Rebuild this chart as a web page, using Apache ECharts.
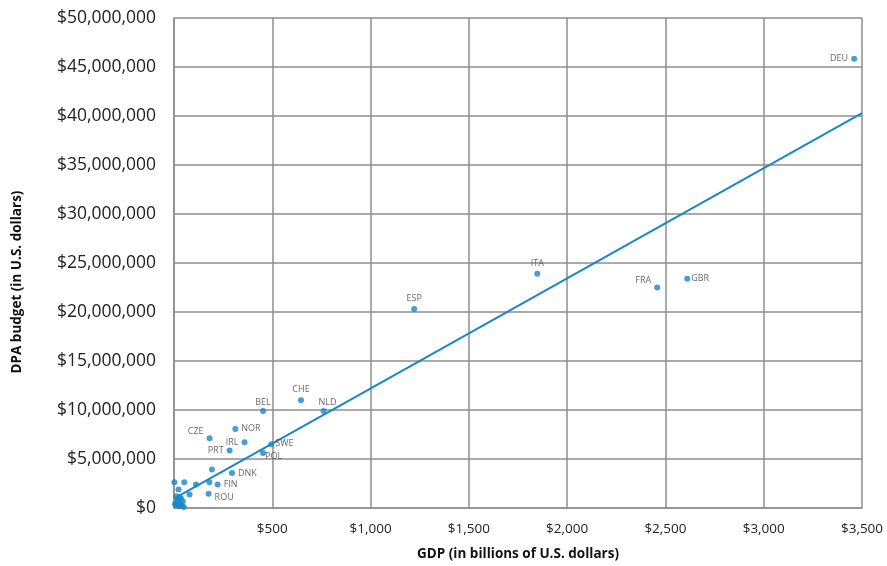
<!DOCTYPE html>
<html>
<head>
<meta charset="utf-8">
<script src="https://cdn.jsdelivr.net/npm/echarts@6/dist/echarts.min.js"></script>
<style>
html,body{margin:0;padding:0;background:#fff;overflow:hidden;}
#c{width:887px;height:566px;}
</style>
</head>
<body>
<div id="c"></div>
<script>
// Data
const countries = ['DEU','ITA','FRA','GBR','ESP','CHE','NLD','BEL','NOR','CZE','IRL','PRT','SWE','POL','DNK','FIN','ROU',
  '','','','','','','','','','','','','','','','','','',''];
const gdp =    [3460,1848,2458,2611,1222,646,761,453,312,181,359,283,495,453,295,222,176,
  193,180,112,52,2,79,23,10,15,20,25,30,35,40,45,12,50,5,28];
const budget = [45.85,23.9,22.5,23.4,20.3,11.0,9.89,9.89,8.07,7.12,6.71,5.87,6.51,5.6,3.57,2.4,1.45,
  3.92,2.63,2.4,2.63,2.63,1.39,1.9,0.3,0.6,0.9,0.2,0.5,1.0,0.3,0.7,1.2,0.1,0.4,1.1].map(v => v*1e6);
const trendGdp = [0, 3500];
const trendBudget = [0.95e6, 40.3e6];
const xTicks = [0,500,1000,1500,2000,2500,3000,3500];

const labelSide = {DEU:'left',ITA:'top',FRA:'left',GBR:'right',ESP:'top',CHE:'top',NLD:'top',BEL:'top',
  NOR:'right',CZE:'left',IRL:'left',PRT:'left',SWE:'right',POL:'right',DNK:'right',FIN:'right',ROU:'right'};
const labelOffset = {FRA:[0,-7],CZE:[0,-7],BEL:[0,2],NLD:[4,2],POL:[-4,3],SWE:[-2,-1],FIN:[0,0],ROU:[0,4],GBR:[-2,0]};

const blue = '#1a86c8';
const grid = '#8e8e8e';
const fmt = n => n.toString().replace(/\B(?=(\d{3})+(?!\d))/g, ',');

const pts = gdp.map((g,i) => {
  const c = countries[i];
  const o = {value:[g, budget[i]]};
  if (c) {
    o.label = {show:true, formatter:c, position:labelSide[c], distance:3,
      offset: labelOffset[c] || [0,0]};
  }
  return o;
});

const chart = echarts.init(document.getElementById('c'));
chart.setOption({
  animation:false,
  grid:{left:174, right:25, top:18, bottom:54},
  xAxis:{
    type:'value', min:0, max:3500, interval:500,
    name:'GDP (in billions of U.S. dollars)', nameLocation:'middle', nameGap:39,
    nameTextStyle:{fontFamily:'Open Sans', fontWeight:'bold', fontSize:13.5, color:'#111'},
    axisLine:{show:true, lineStyle:{color:grid, width:1.5}},
    axisTick:{show:false},
    splitLine:{show:true, lineStyle:{color:grid, width:1.5}},
    axisLabel:{fontFamily:'Open Sans', fontSize:13.5, color:'#222', margin:14,
      formatter:v => v===0 ? '' : '$'+fmt(v)}
  },
  yAxis:{
    type:'value', min:0, max:50000000, interval:5000000,
    name:'DPA budget (in U.S. dollars)', nameLocation:'middle', nameGap:150, nameRotate:90,
    nameTextStyle:{fontFamily:'Open Sans', fontWeight:'bold', fontSize:13.5, color:'#111', padding:[0,38,0,0]},
    axisLine:{show:true, lineStyle:{color:grid, width:1.5}},
    axisTick:{show:false},
    splitLine:{show:true, lineStyle:{color:grid, width:1.5}},
    axisLabel:{fontFamily:'Open Sans', fontSize:17.5, color:'#222', margin:18,
      formatter:v => '$'+fmt(v)}
  },
  series:[
    {type:'line', data:trendGdp.map((g,i)=>[g,trendBudget[i]]), symbol:'none',
      lineStyle:{color:blue, width:2}, z:2},
    {type:'scatter', data:pts, symbolSize:6, itemStyle:{color:blue}, z:3,
      label:{fontFamily:'Open Sans', fontSize:9, color:'#444'}}
  ]
});
</script>
</body>
</html>
